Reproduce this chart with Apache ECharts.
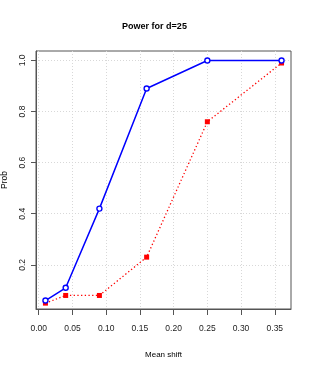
<!DOCTYPE html>
<html>
<head>
<meta charset="utf-8">
<script src="https://cdn.jsdelivr.net/npm/echarts@6/dist/echarts.min.js"></script>
<style>html,body{margin:0;padding:0;background:#fff;}#c{width:309px;height:374px;}</style>
</head>
<body>
<div id="c"></div>
<script>
var meanShift = [0.01, 0.04, 0.09, 0.16, 0.25, 0.36];
var powerBlue = [0.06, 0.11, 0.42, 0.89, 1.0, 1.0];
var powerRed = [0.05, 0.08, 0.08, 0.23, 0.76, 0.99];
var xTicks = [0.00, 0.05, 0.10, 0.15, 0.20, 0.25, 0.30, 0.35];
var yTicks = [0.2, 0.4, 0.6, 0.8, 1.0];
var titleText = 'Power for d=25';

var FONT = '"Liberation Sans", Arial, sans-serif';
function pairs(xs, ys){ return xs.map(function(x,i){ return [x, ys[i]]; }); }

var chart = echarts.init(document.getElementById('c'), null, {renderer:'canvas'});
chart.setOption({
  animation: false,
  backgroundColor: '#fff',
  title: {
    text: titleText, left: 'center', top: 17,
    textStyle: {fontFamily: FONT, fontSize: 9, fontWeight: 'bold', color: '#000'}
  },
  grid: {left: 36, top: 51, right: 18, bottom: 65, show: true, borderColor: '#555', borderWidth: 1,
    backgroundColor: 'transparent', containLabel: false, outerBoundsMode: 'none'},
  xAxis: {
    type: 'value', min: -0.004, max: 0.374,
    name: 'Mean shift', nameLocation: 'middle', nameGap: 42,
    nameTextStyle: {fontFamily: FONT, fontSize: 8, color: '#000'},
    axisLine: {show: true, onZero: false, lineStyle: {color: '#555', width: 1}},
    axisTick: {show: true, length: 6, customValues: xTicks, lineStyle: {color: '#555'}},
    axisLabel: {customValues: xTicks, margin: 15, fontFamily: FONT, fontSize: 8.5, color: '#222',
      formatter: function(v){ return v.toFixed(2); }},
    splitLine: {show: true, lineStyle: {color: '#d8d8d8', type: [1, 2], width: 1}}
  },
  yAxis: {
    type: 'value', min: 0.027, max: 1.037,
    name: 'Prob', nameLocation: 'middle', nameGap: 27, nameRotate: 90,
    nameTextStyle: {fontFamily: FONT, fontSize: 8.5, color: '#000'},
    axisLine: {show: true, onZero: false, lineStyle: {color: '#555', width: 1}},
    axisTick: {show: true, length: 5, customValues: yTicks, lineStyle: {color: '#555'}},
    axisLabel: {customValues: yTicks, rotate: 90, margin: 9, fontFamily: FONT, fontSize: 8.5, color: '#222',
      formatter: function(v){ return v.toFixed(1); }},
    splitLine: {show: true, lineStyle: {color: '#d8d8d8', type: [1, 2], width: 1}}
  },
  series: [
    {
      type: 'line', data: pairs(meanShift, powerRed), z: 2,
      lineStyle: {color: '#ff0000', width: 1.3, type: [1.3, 2.4]},
      symbol: 'rect', symbolSize: 5, itemStyle: {color: '#ff0000'}
    },
    {
      type: 'line', data: pairs(meanShift, powerBlue), z: 3,
      lineStyle: {color: '#0000ff', width: 1.5},
      symbol: 'circle', symbolSize: 5, itemStyle: {color: '#fff', borderColor: '#0000ff', borderWidth: 1.4}
    }
  ]
});
</script>
</body>
</html>
